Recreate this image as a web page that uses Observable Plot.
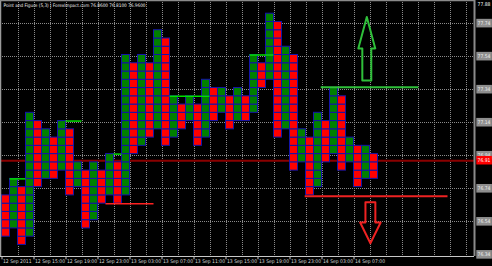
<!DOCTYPE html>
<html><head><meta charset="utf-8">
<script src="https://cdn.jsdelivr.net/npm/d3@7"></script>
<script src="https://cdn.jsdelivr.net/npm/@observablehq/plot@0.6"></script>
<style>
html,body{margin:0;padding:0;background:#000;overflow:hidden;}
#chart svg{display:block;}
</style></head><body><div id="chart"></div>
<script>
// ---- data ----
const title = "Point and Figure (5,3) | ForexImpact.com 76.8600 76.8100 76.9600";
const boxSize = 0.05;
const colType = ["O","X","O","X","O","X","O","X","O","X","O","X","O","X","O","X","O","X","O","X",
                 "O","X","O","X","O","X","O","X","O","X","O","X","O","X","O","X","O","X","O","X",
                 "O","X","O","X","O","X","O"];
const colTop = [76.70,76.80,76.75,77.20,77.15,77.10,77.05,77.15,77.10,76.90,
                76.85,76.90,76.85,76.95,76.90,77.55,77.50,77.55,77.50,77.70,
                77.65,77.30,77.25,77.30,77.25,77.40,77.35,77.35,77.30,77.35,
                77.30,77.55,77.50,77.80,77.75,77.60,77.55,77.10,77.05,77.20,
                77.15,77.35,77.30,77.05,77.00,77.00,76.95];
const colBottom = [76.45,76.50,76.40,76.45,76.75,76.80,76.80,76.85,76.70,76.75,
                   76.50,76.55,76.65,76.70,76.65,76.70,76.95,77.00,77.05,77.10,
                   77.00,77.05,77.10,77.15,77.00,77.05,77.15,77.20,77.10,77.15,
                   77.15,77.20,77.35,77.40,77.05,77.10,76.85,76.90,76.70,76.75,
                   76.90,76.95,76.85,76.90,76.75,76.80,76.80];
const yTicks = [77.74, 77.54, 77.34, 77.14, 76.94, 76.74, 76.54];
const yTopLabel = 77.88;
const yBottomLabel = 76.34;
const currentPrice = 76.91;
const xLabels = ["12 Sep 2011","12 Sep 15:00","12 Sep 19:00","12 Sep 23:00","13 Sep 03:00","13 Sep 07:00",
                 "13 Sep 11:00","13 Sep 15:00","13 Sep 19:00","13 Sep 23:00","14 Sep 03:00","14 Sep 07:00"];
const xLabelCols = [0,4,8,12,16,20,24,28,32,36,40,44];
// horizontal level lines: start column, end column, price, colour, width
const levelStart = [1, 8, 14, 21, 31, 39.9, 13, 37.9];
const levelEnd   = [3, 10, 15, 26, 34, 52.1, 19, 55.75];
const levelPrice = [76.80, 77.15, 76.95, 77.30, 77.55, 77.355, 76.65, 76.695];
const levelColor = ["#00e000","#00e000","#00e000","#00e000","#00e000","#2fbf3a","#ff2020","#ee2222"];
const levelWidth = [1.5, 1.5, 1.5, 1.5, 1.5, 2, 1.5, 2];
// arrows: centre column, tip, head base, tail price
const arrowDir = ["up","down"];
const arrowCol = [45.6, 46.05];
const arrowTip = [77.78, 76.41];
const arrowBase = [77.59, 76.536];
const arrowTail = [77.395, 76.658];
const arrowColor = ["#2fbf3a", "#ee2222"];

// ---- derived ----
const xDomain = [-0.1875, 59.0625];
const yDomain = [76.33, 77.88];
const boxes = colTop.flatMap((top, i) => {
  const n = Math.round((top - colBottom[i]) / boxSize);
  return d3.range(n).map(j => ({i, type: colType[i], y1: colBottom[i] + j * boxSize, y2: colBottom[i] + (j + 1) * boxSize}));
});
const levels = levelPrice.map((p, k) => ({x1: levelStart[k], x2: levelEnd[k], price: p, color: levelColor[k], w: levelWidth[k]}));
const arrowPts = arrowDir.flatMap((dir, k) => {
  const c = arrowCol[k], sw = dir === "up" ? 0.56 : 0.62, hw = dir === "up" ? 1.06 : 1.28;
  const pts = [[c - sw, arrowTail[k]], [c - sw, arrowBase[k]], [c - hw, arrowBase[k]], [c, arrowTip[k]],
               [c + hw, arrowBase[k]], [c + sw, arrowBase[k]], [c + sw, arrowTail[k]], [c - sw, arrowTail[k]]];
  return pts.map(([x, y]) => ({id: k, x, y, color: arrowColor[k]}));
});
const labelFont = "Liberation Sans Narrow, DejaVu Sans Condensed, Liberation Sans, Arial, sans-serif";

const chart = Plot.plot({
  width: 492, height: 266,
  marginLeft: 0, marginRight: 18, marginTop: 0, marginBottom: 10,
  style: {background: "#000", fontFamily: labelFont, fontSize: "5px", overflow: "visible"},
  x: {domain: xDomain, axis: null},
  y: {domain: yDomain, axis: null},
  color: {type: "identity"},
  marks: [
    Plot.ruleY(yTicks, {stroke: "#8a8a8a", strokeDasharray: "1,1", shapeRendering: "crispEdges"}),
    Plot.ruleX(d3.range(2, 59, 2), {stroke: "#8a8a8a", strokeDasharray: "1,1", shapeRendering: "crispEdges"}),
    Plot.ruleY([currentPrice], {stroke: "#8b0000", strokeWidth: 2}),
    Plot.rect(boxes, {x1: d => d.i, x2: d => d.i + 1, y1: "y1", y2: "y2",
      fill: d => d.type === "X" ? "#008000" : "#ff0000", stroke: "#1414a8", strokeWidth: 1}),
    Plot.ruleY(levels, {y: "price", x1: "x1", x2: "x2", stroke: "color", strokeWidth: "w"}),
    Plot.line(arrowPts, {x: "x", y: "y", z: "id", stroke: "color", strokeWidth: 2, curve: "linear"}),
    // frame lines
    Plot.ruleX([xDomain[1]], {stroke: "#8a8a8a", strokeWidth: 2}),
    Plot.ruleX([xDomain[0]], {stroke: "#9a9a9a", strokeWidth: 1.5}),
    Plot.ruleY([yDomain[0]], {stroke: "#c8c8c8", strokeWidth: 1}),
    Plot.ruleY([yDomain[1]], {stroke: "#8a8a8a", strokeWidth: 1.5}),
    // x axis ticks + labels
    Plot.ruleX(xLabelCols, {y1: yDomain[0], y2: 76.31, stroke: "#c8c8c8"}),
    Plot.text(xLabels, {x: (d, k) => xLabelCols[k], y: 76.30, text: d => d, textAnchor: "start", dx: 1, fill: "#d8d8d8"}),
    // y labels
    Plot.rect(yTicks.concat([yBottomLabel]), {x1: 59.35, x2: 61.3, y1: d => d - 0.026, y2: d => d + 0.026, fill: "#8e8e8e"}),
    Plot.text(yTicks.concat([yBottomLabel]), {x: 59.45, y: d => d, text: d => d.toFixed(2), textAnchor: "start", fill: "#f0f0f0"}),
    Plot.text([yTopLabel], {x: 59.45, y: yTopLabel - 0.025, text: d => d.toFixed(2), textAnchor: "start", fill: "#ffffff"}),
    Plot.rect([currentPrice], {x1: 59.35, x2: 61.3, y1: d => d - 0.026, y2: d => d + 0.026, fill: "#ff0000"}),
    Plot.text([currentPrice], {x: 59.45, y: d => d, text: d => d.toFixed(2), textAnchor: "start", fill: "#ffffff"}),
    // title
    Plot.text([title], {frameAnchor: "top-left", lineAnchor: "top", textAnchor: "start", dx: 3, dy: 3, text: d => d, fill: "#f0f0f0", fontSize: 4.7})
  ]
});
document.getElementById("chart").appendChild(chart);
</script>
</body></html>
